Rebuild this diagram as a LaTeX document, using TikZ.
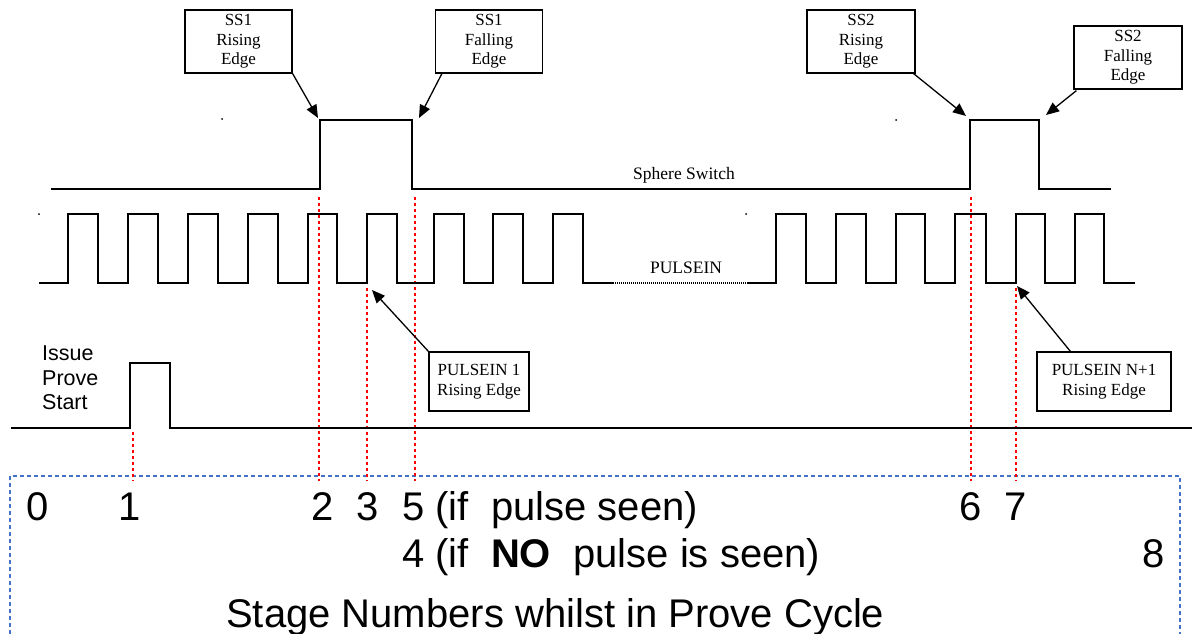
\documentclass[tikz,border=0pt]{standalone}
\usepackage{fontspec}
\setmainfont{Liberation Serif}
\newfontfamily\arialfont{Liberation Sans}
\usetikzlibrary{arrows.meta,calc}
\definecolor{boxblue}{RGB}{68,114,196}
\begin{document}
\begin{tikzpicture}[x=1pt,y=-1pt,
  sig/.style={line width=1.5pt, line join=miter},
  lbl/.style={draw, line width=1.2pt, fill=white, align=center, font=\fontsize{17}{19.5}\selectfont, inner sep=0pt},
  arr/.style={line width=1.3pt, -{Triangle[length=13pt,width=11pt]}},
  marker/.style={red, line width=1.4pt, dash pattern=on 3pt off 3pt},
  stage/.style={font=\arialfont\fontsize{40}{46}\selectfont, inner sep=0pt, anchor=base},
  stagel/.style={stage, anchor=base west},
  siglbl/.style={font=\fontsize{17.5}{20}\selectfont, inner sep=0pt},
  speck/.style={fill=black},
]
\useasboundingbox (0,0) rectangle (1192,634);

% stage box (open at bottom)
\draw[boxblue, line width=1.5pt, dash pattern=on 4pt off 3pt] (10,634) -- (10,476) -- (1180,476) -- (1180,634);

% red markers
\draw[marker] (133,432) -- (133,481);
\draw[marker] (319,197) -- (319,481);
\draw[marker] (367,288) -- (367,481);
\draw[marker] (415,197) -- (415,481);
\draw[marker] (971,197) -- (971,481);
\draw[marker] (1016,288) -- (1016,481);

% Sphere switch
\draw[sig] (51,189) -- (320,189) -- (320,120) -- (412,120) -- (412,189) -- (970,189) -- (970,120) -- (1039,120) -- (1039,189) -- (1111,189);
\node[siglbl] (sslbl) at (684,175) {Sphere Switch};

% PULSEIN train
\draw[sig] (39,283) -- (68,283) -- (68,214) -- (98,214) -- (98,283) -- (128,283) -- (128,214) -- (158,214) -- (158,283) -- (188,283) -- (188,214) -- (218,214) -- (218,283) -- (248,283) -- (248,214) -- (278,214) -- (278,283) -- (308,283) -- (308,214) -- (337,214) -- (337,283) -- (367,283) -- (367,214) -- (397,214) -- (397,283) -- (434,283) -- (434,214) -- (464,214) -- (464,283) -- (493,283) -- (493,214) -- (523,214) -- (523,283) -- (553,283) -- (553,214) -- (583,214) -- (583,283) -- (613,283);
\draw[line width=1.3pt, dash pattern=on 1pt off 1pt] (613,283) -- (747,283);
\draw[sig] (747,283) -- (776,283) -- (776,214) -- (806,214) -- (806,283) -- (836,283) -- (836,214) -- (866,214) -- (866,283) -- (896,283) -- (896,214) -- (925,214) -- (925,283) -- (955,283) -- (955,214) -- (986,214) -- (986,283) -- (1016,283) -- (1016,214) -- (1045,214) -- (1045,283) -- (1075,283) -- (1075,214) -- (1104,214) -- (1104,283) -- (1135,283);
\node[siglbl] (pulbl) at (686,268) {PULSEIN};

% Issue Prove Start
\draw[sig] (11,428) -- (130,428) -- (130,363) -- (170,363) -- (170,428) -- (1192,428);
\node[font=\arialfont\fontsize{21.5}{24.5}\selectfont, align=left, anchor=west, inner sep=0pt] (ips) at (42,378) {Issue\\Prove\\Start};

% specks
\fill[speck] (222,119) circle (1pt);
\fill[speck] (896,120) circle (1pt);
\fill[speck] (39,214) circle (1pt);
\fill[speck] (746,214) circle (1pt);

% callout boxes
\node[lbl, minimum width=107pt, minimum height=63pt] (ss1r) at (238.5,41.5) {SS1\\Rising\\Edge};
\node[lbl, minimum width=107pt, minimum height=63pt] (ss1f) at (489,41.5) {SS1\\Falling\\Edge};
\node[lbl, minimum width=108pt, minimum height=63pt] (ss2r) at (861,41.5) {SS2\\Rising\\Edge};
\node[lbl, minimum width=108pt, minimum height=63pt] (ss2f) at (1128,57.5) {SS2\\Falling\\Edge};
\node[lbl, minimum width=100pt, minimum height=59pt] (p1) at (479,381.5) {PULSEIN 1\\Rising Edge};
\node[lbl, minimum width=134pt, minimum height=59pt] (pn1) at (1104,381.5) {PULSEIN N+1\\Rising Edge};

% arrow tips
\coordinate (ss1rtip) at (318,118);
\coordinate (ss1ftip) at (419,118);
\coordinate (ss2rtip) at (966,116);
\coordinate (ss2ftip) at (1046,115);
\coordinate (p1tip) at (372,290);
\coordinate (pn1tip) at (1017,286);

\draw[arr] (ss1r.south east) -- (ss1rtip);
\draw[arr] ($(ss1f.south west)+(7,0)$) -- (ss1ftip);
\draw[arr] ($(ss2r.south east)+(-2,0)$) -- (ss2rtip);
\draw[arr] ($(ss2f.south west)+(3,1)$) -- (ss2ftip);
\draw[arr] (p1.north west) -- (p1tip);
\draw[arr] ($(pn1.north west)+(34,0)$) -- (pn1tip);

% stage numbers
\node[stage] (s0) at (38,520) {0};
\node[stage] (s1) at (130,520) {1};
\node[stage] (s2) at (323,520) {2};
\node[stage] (s3) at (368,520) {3};
\node[stagel] (s5) at (402,520) {5 (if\ \ pulse seen)};
\node[stage] (s6) at (971,520) {6};
\node[stage] (s7) at (1016,520) {7};
\node[stagel] (s4) at (402,567) {4 (if\ \ \textbf{NO}\ \ pulse is seen)};
\node[stage] (s8) at (1154,567) {8};
\node[stagel] (title) at (226,627) {Stage Numbers whilst in Prove Cycle};
\end{tikzpicture}
\end{document}
